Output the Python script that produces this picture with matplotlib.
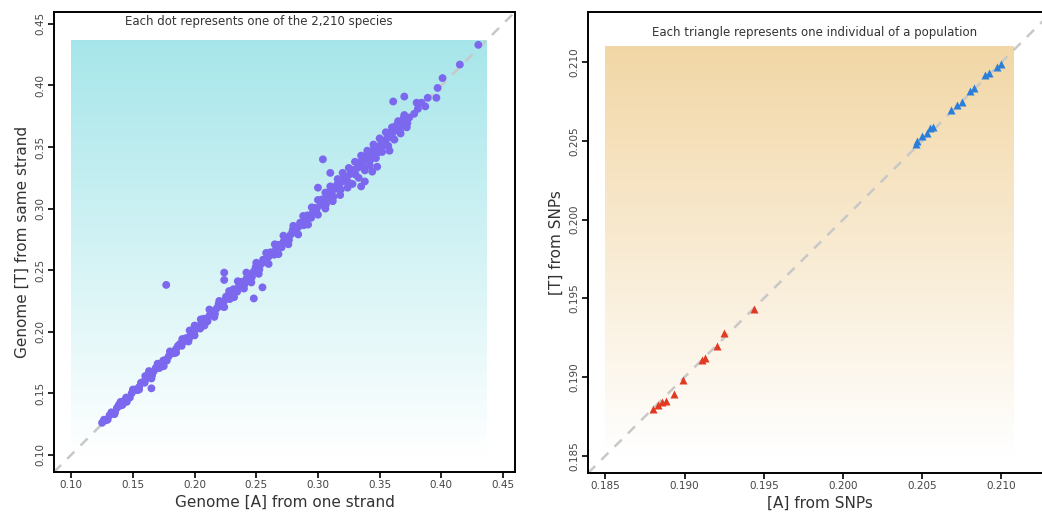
import numpy as np
import matplotlib
matplotlib.use('Agg')
from matplotlib import pyplot as plt
from matplotlib.colors import LinearSegmentedColormap

# left panel: one dot per species (band)
species_x = [0.125,0.128,0.131,0.134,0.137,0.140,0.143,0.146,0.149,0.152,0.155,0.158,0.161,0.164,0.167,
             0.170,0.173,0.176,0.179,0.182,0.185,0.188,0.191,0.194,0.197,0.200,
             0.140,0.150,0.160,0.163,0.170,0.180,0.190,0.196,0.200,
             0.135,0.145,0.155,0.165,0.175,0.185,0.195,0.200,
             0.203,0.206,0.209,0.212,0.215,0.218,0.221,0.224,0.227,0.230,0.233,0.236,0.239,0.242,0.245,
             0.248,0.251,0.254,0.257,0.260,0.263,0.266,0.269,0.272,0.275,0.278,0.281,0.284,0.287,0.290,
             0.293,0.296,0.299,
             0.205,0.212,0.220,0.228,0.235,0.242,0.250,0.258,0.265,0.272,0.280,0.288,0.295,
             0.208,0.216,0.224,0.232,0.240,0.246,0.252,0.260,0.268,0.276,0.284,0.292,0.300,
             0.302,0.305,0.308,0.311,0.314,0.317,0.320,0.323,0.326,0.329,0.332,0.335,0.338,0.341,0.344,
             0.347,0.350,0.353,0.356,0.359,0.362,0.365,0.368,0.371,0.374,
             0.300,0.306,0.310,0.316,0.320,0.325,0.330,0.335,0.340,0.345,0.350,0.355,0.360,0.365,0.370,
             0.306,0.312,0.318,0.324,0.328,0.333,0.338,0.342,0.347,0.352,0.357,0.362,0.367,0.372,
             0.335,0.338,0.344,0.348,
             0.378,0.381,0.384,0.387,0.389,0.396,0.397,0.401,0.415,0.430,0.361,0.370,0.380,
             0.177,0.224,0.224,0.255,0.248,0.165,0.304,0.358,0.310,0.300,
             0.1265,0.1295,0.1325,0.1355,0.1385,0.1415,0.1445,0.1475,0.1505,0.1535,0.1565,0.1595,0.1625,
             0.1655,0.1685,0.1715,0.1745,0.1775,0.1805,0.1835,0.1865,0.1895,0.1925,0.1955,0.1985,
             0.2015,0.2045,0.2075,0.2105,0.2135,0.2165,0.2195,0.2225,0.2255,0.2285,0.2315,0.2345,0.2375,
             0.2405,0.2435,0.2465,0.2495,0.2525,0.2555,0.2585,0.2615,0.2645,0.2675,0.2705,0.2735,0.2765,
             0.2795,0.2825,0.2855,0.2885,0.2915,0.2945,0.2975,
             0.3035,0.3065,0.3095,0.3125,0.3155,0.3185,0.3215,0.3245,0.3275,0.3305,0.3335,0.3365,0.3395,
             0.3425,0.3455,0.3485,0.3515,0.3545,0.3575,0.3605,0.3635,0.3665,0.3695,0.3725]
species_y = [0.126,0.128,0.132,0.134,0.138,0.140,0.144,0.146,0.150,0.153,0.155,0.159,0.162,0.165,0.168,
             0.171,0.174,0.177,0.180,0.183,0.186,0.190,0.192,0.195,0.198,0.201,
             0.143,0.153,0.164,0.168,0.174,0.184,0.194,0.201,0.205,
             0.133,0.143,0.153,0.162,0.172,0.183,0.192,0.197,
             0.204,0.207,0.210,0.213,0.216,0.219,0.222,0.225,0.228,0.231,0.234,0.237,0.240,0.243,0.246,
             0.249,0.252,0.255,0.258,0.261,0.264,0.267,0.270,0.273,0.276,0.279,0.282,0.285,0.288,0.291,
             0.294,0.297,0.300,
             0.210,0.218,0.225,0.233,0.241,0.248,0.256,0.264,0.271,0.278,0.286,0.294,0.301,
             0.205,0.212,0.220,0.228,0.235,0.240,0.247,0.255,0.263,0.271,0.279,0.287,0.295,
             0.303,0.306,0.309,0.312,0.316,0.319,0.322,0.325,0.328,0.330,0.333,0.336,0.339,0.342,0.345,
             0.348,0.351,0.354,0.357,0.360,0.363,0.366,0.369,0.372,0.374,
             0.307,0.313,0.318,0.324,0.329,0.333,0.338,0.343,0.347,0.352,0.357,0.362,0.366,0.371,0.376,
             0.300,0.306,0.311,0.317,0.320,0.325,0.331,0.335,0.341,0.346,0.351,0.356,0.361,0.366,
             0.318,0.322,0.330,0.334,
             0.377,0.381,0.386,0.383,0.390,0.390,0.398,0.406,0.417,0.433,0.387,0.391,0.386,
             0.238,0.248,0.242,0.236,0.227,0.154,0.340,0.347,0.329,0.317,
             0.1285,0.1285,0.1345,0.1345,0.1405,0.1405,0.1465,0.1465,0.1525,0.1525,0.1585,0.1585,0.1645,
             0.1645,0.1705,0.1705,0.1765,0.1765,0.1825,0.1825,0.1885,0.1885,0.1945,0.1945,0.2005,
             0.2045,0.2025,0.2105,0.2085,0.2165,0.2145,0.2225,0.2205,0.2285,0.2265,0.2345,0.2325,0.2405,
             0.2385,0.2465,0.2445,0.2525,0.2505,0.2585,0.2565,0.2645,0.2625,0.2705,0.2685,0.2765,0.2745,
             0.2825,0.2805,0.2885,0.2865,0.2945,0.2925,0.3005,
             0.3075,0.3035,0.3135,0.3095,0.3195,0.3155,0.3255,0.3215,0.3315,0.3275,0.3375,0.3335,0.3435,
             0.3395,0.3495,0.3455,0.3555,0.3515,0.3615,0.3575,0.3675,0.3635,0.3735,0.3695]

# right panel: triangles per individual
blue_x = [0.2100,0.20975,0.20925,0.2090,0.2083,0.2080,0.2075,0.2072,0.2068,0.2057,0.2055,0.2053,0.2050,0.2047,0.2046]
blue_y = [0.2099,0.2097,0.2093,0.2092,0.2084,0.2082,0.2075,0.2073,0.2070,0.2059,0.2058,0.2055,0.2053,0.2050,0.2048]
red_x = [0.1944,0.1925,0.19205,0.1913,0.1911,0.1899,0.1893,0.1888,0.1886,0.1883,0.1880]
red_y = [0.1943,0.1928,0.19196,0.1912,0.1911,0.1898,0.1889,0.1885,0.1884,0.1882,0.1880]

left_ticks = [0.10,0.15,0.20,0.25,0.30,0.35,0.40,0.45]
right_ticks = [0.185,0.190,0.195,0.200,0.205,0.210]


def gradient(ax, x0, x1, y0, y1, top):
    cm = LinearSegmentedColormap.from_list('g', ['white', top])
    grad = np.linspace(0, 1, 256).reshape(-1, 1)
    ax.imshow(grad, cmap=cm, origin='lower', extent=[x0, x1, y0, y1], aspect='auto', zorder=0)


def style(ax, ticks, fmt):
    for s in ax.spines.values():
        s.set_linewidth(1.4)
    ax.set_xticks(ticks)
    ax.set_yticks(ticks)
    ax.set_xticklabels([fmt % t for t in ticks])
    ax.set_yticklabels([fmt % t for t in ticks], rotation=90, va='center')
    ax.tick_params(length=4, width=1.2, labelsize=7.5, labelcolor='#444444', pad=2)


fig = plt.figure(figsize=(10.42, 5.21), dpi=100)

ax1 = fig.add_axes([0.0518, 0.094, 0.4424, 0.883])
lim1 = (0.086, 0.4597)
gradient(ax1, 0.10, 0.437, 0.10, 0.437, '#a6e6ea')
ax1.plot(lim1, lim1, color='#c8c8c8', lw=1.8, ls=(0, (4, 3.5)), zorder=1)
ax1.scatter(species_x, species_y, s=32, color='#7b68ee', edgecolors='none', zorder=2)
ax1.text(0.252, 0.452, 'Each dot represents one of the 2,210 species', ha='center', va='center',
         fontsize=8.5, color='#333333')
ax1.set_xlim(lim1)
ax1.set_ylim(lim1)
style(ax1, left_ticks, '%.2f')
ax1.set_xlabel('Genome [A] from one strand', fontsize=11, color='#333333', labelpad=3)
ax1.set_ylabel('Genome [T] from same strand', fontsize=11, color='#333333', labelpad=4)

ax2 = fig.add_axes([0.5643, 0.092, 0.4453, 0.885])
lim2 = (0.1839, 0.2132)
gradient(ax2, 0.185, 0.2108, 0.185, 0.211, '#f2d7a6')
ax2.plot(lim2, lim2, color='#c8c8c8', lw=1.8, ls=(0, (4, 3.5)), zorder=1)
ax2.plot(blue_x, blue_y, '^', color='#2b7fd8', ms=6, mec='none', zorder=2)
ax2.plot(red_x, red_y, '^', color='#e23a22', ms=6, mec='none', zorder=2)
ax2.text(0.1982, 0.2119, 'Each triangle represents one individual of a population', ha='center',
         va='center', fontsize=8.5, color='#333333')
ax2.set_xlim(lim2)
ax2.set_ylim(lim2)
style(ax2, right_ticks, '%.3f')
ax2.set_xlabel('[A] from SNPs', fontsize=11, color='#333333', labelpad=3)
ax2.set_ylabel('[T] from SNPs', fontsize=11, color='#333333', labelpad=4)

fig.savefig('out.png', dpi=100)
